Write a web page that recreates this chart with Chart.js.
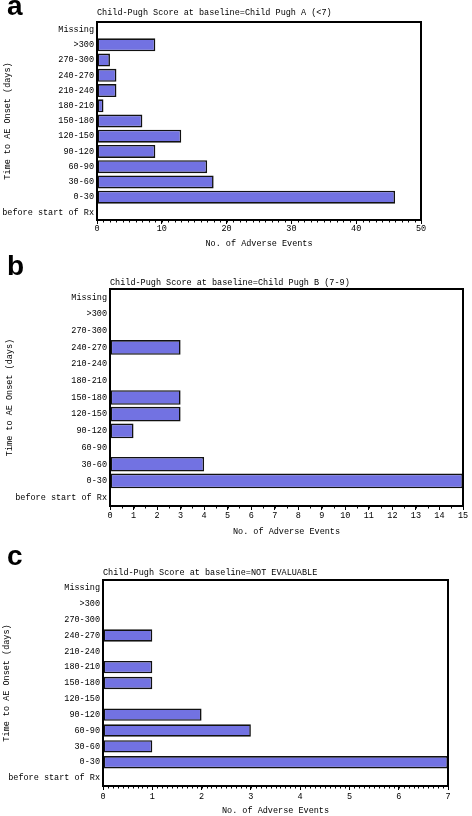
<!DOCTYPE html>
<html>
<head>
<meta charset="utf-8">
<script src="https://cdn.jsdelivr.net/npm/chart.js@4.4.1/dist/chart.umd.min.js"></script>
<style>
    html, body { margin: 0; padding: 0; background: #ffffff; overflow: hidden; }
    body { position: relative; width: 472px; height: 816px; }
    canvas { position: absolute; left: 0; }
    .panel-letter {
        position: absolute;
        left: 7px;
        font: bold 28px "Liberation Sans", Arial, sans-serif;
        line-height: 1;
        color: #000;
        z-index: 2;
    }
</style>
</head>
<body>
<div class="panel-letter" style="top:-8px">a</div>
<div class="panel-letter" style="top:252px">b</div>
<div class="panel-letter" style="top:542px">c</div>
<canvas id="chartPughA" width="472" height="250" style="top:0px"></canvas>
<canvas id="chartPughB" width="472" height="277" style="top:262px"></canvas>
<canvas id="chartNotEvaluable" width="472" height="268" style="top:548px"></canvas>

<script>
const CATEGORIES = [
    'Missing', '>300', '270-300', '240-270', '210-240', '180-210', '150-180',
    '120-150', '90-120', '60-90', '30-60', '0-30', 'before start of Rx',
];

const EVENTS_PUGH_A = [0, 9, 2, 3, 3, 1, 7, 13, 9, 17, 18, 46, 0];
const EVENTS_PUGH_B = [0, 0, 0, 3, 0, 0, 3, 3, 1, 0, 4, 15, 0];
const EVENTS_NOT_EVALUABLE = [0, 0, 0, 1, 0, 1, 1, 0, 2, 3, 1, 7, 0];

// x axis ranges: [max, major step, minor step]
const AXIS_PUGH_A = [50, 10, 1];
const AXIS_PUGH_B = [15, 1, 0.5];
const AXIS_NOT_EVALUABLE = [7, 1, 0.1];

const TITLE_PUGH_A = 'Child-Pugh Score at baseline=Child Pugh A (<7)';
const TITLE_PUGH_B = 'Child-Pugh Score at baseline=Child Pugh B (7-9)';
const TITLE_NOT_EVALUABLE = 'Child-Pugh Score at baseline=NOT EVALUABLE';

const X_TITLE = 'No. of Adverse Events';
const Y_TITLE = 'Time to AE Onset (days)';

const COLORS = {
    bar: '#7272E2',
    ink: '#000000',
    barEdge: '#111111',
};

const FONT = '"Liberation Mono", "DejaVu Sans Mono", monospace';

const plotFrame = {
    id: 'plotFrame',
    afterDatasetsDraw(chart) {
        const { ctx, chartArea } = chart;
        ctx.save();
        ctx.strokeStyle = COLORS.ink;
        ctx.lineWidth = 2;
        ctx.strokeRect(chartArea.left, chartArea.top, chartArea.width, chartArea.height);
        ctx.restore();
    },
};

const minorTicks = {
    id: 'minorTicks',
    afterDraw(chart, args, options) {
        const scale = chart.scales.x;
        if (!options.step) {
            return;
        }
        const { ctx } = chart;
        const count = Math.round((scale.max - scale.min) / options.step);
        ctx.save();
        ctx.strokeStyle = COLORS.ink;
        ctx.lineWidth = 1;
        ctx.beginPath();
        for (let i = 1; i < count; i++) {
            const x = Math.round(scale.getPixelForValue(scale.min + i * options.step)) + 0.5;
            ctx.moveTo(x, scale.top);
            ctx.lineTo(x, scale.top + 2.5);
        }
        ctx.stroke();
        ctx.restore();
    },
};

function createChart(elementId, panel) {
    const canvas = document.getElementById(elementId);
    if (!canvas) {
        return;
    }
    const [max, step, minor] = panel.axis;

    new Chart(canvas.getContext('2d'), {
        type: 'bar',
        data: {
            labels: CATEGORIES,
            datasets: [{
                data: panel.values,
                backgroundColor: COLORS.bar,
                borderColor: COLORS.barEdge,
                borderWidth: (ctx) => (ctx.raw ? 1.6 : 0),
                borderSkipped: false,
                barPercentage: panel.barPercentage,
                categoryPercentage: 1,
            }],
        },
        options: {
            indexAxis: 'y',
            responsive: false,
            animation: false,
            devicePixelRatio: 1,
            layout: {
                padding: { left: 0, right: panel.padRight, top: 0, bottom: 0 },
            },
            plugins: {
                legend: { display: false },
                tooltip: { enabled: false },
                title: {
                    display: true,
                    text: panel.title,
                    align: 'start',
                    fullSize: false,
                    color: COLORS.ink,
                    font: { family: FONT, size: 8.5, weight: 'normal', lineHeight: 1 },
                    padding: panel.titlePadding,
                },
                minorTicks: { step: minor },
            },
            scales: {
                x: {
                    min: 0,
                    max: max,
                    afterFit(scale) {
                        scale.height = panel.xHeight;
                    },
                    ticks: {
                        stepSize: step,
                        color: COLORS.ink,
                        padding: panel.xTickPadding,
                        maxRotation: 0,
                        font: { family: FONT, size: 8.5, lineHeight: 1.2 },
                    },
                    grid: {
                        display: true,
                        drawOnChartArea: false,
                        drawTicks: true,
                        tickLength: 4,
                        color: COLORS.ink,
                    },
                    border: { display: false },
                    title: {
                        display: true,
                        text: X_TITLE,
                        color: COLORS.ink,
                        font: { family: FONT, size: 8.5, lineHeight: 1.2 },
                        padding: { top: 0, bottom: panel.xTitleBottom },
                    },
                },
                y: {
                    afterFit(scale) {
                        scale.width = panel.yWidth;
                    },
                    ticks: {
                        autoSkip: false,
                        color: COLORS.ink,
                        padding: 3,
                        font: { family: FONT, size: 8.5, lineHeight: 1.2 },
                    },
                    grid: { display: false, drawTicks: false },
                    border: { display: false },
                    title: {
                        display: true,
                        text: Y_TITLE,
                        color: COLORS.ink,
                        font: { family: FONT, size: 8.5, lineHeight: 1.2 },
                        padding: { top: panel.yTitleTop, bottom: 0 },
                    },
                },
            },
        },
        plugins: [plotFrame, minorTicks],
    });
}

createChart('chartPughA', {
    values: EVENTS_PUGH_A,
    axis: AXIS_PUGH_A,
    title: TITLE_PUGH_A,
    titlePadding: { top: 8.75, bottom: 4.75 },
    yWidth: 97,
    padRight: 51,
    xHeight: 30,
    xTickPadding: 0,
    xTitleBottom: 1,
    yTitleTop: 3,
    barPercentage: 0.85,
});

createChart('chartPughB', {
    values: EVENTS_PUGH_B,
    axis: AXIS_PUGH_B,
    title: TITLE_PUGH_B,
    titlePadding: { top: 16.75, bottom: 1.75 },
    yWidth: 110,
    padRight: 9,
    xHeight: 33,
    xTickPadding: 1,
    xTitleBottom: 1.9,
    yTitleTop: 5,
    barPercentage: 0.88,
});

createChart('chartNotEvaluable', {
    values: EVENTS_NOT_EVALUABLE,
    axis: AXIS_NOT_EVALUABLE,
    title: TITLE_NOT_EVALUABLE,
    titlePadding: { top: 20.75, bottom: 2.75 },
    yWidth: 103,
    padRight: 24,
    xHeight: 30,
    xTickPadding: 2,
    xTitleBottom: 0,
    yTitleTop: 2,
    barPercentage: 0.78,
});
</script>
</body>
</html>
